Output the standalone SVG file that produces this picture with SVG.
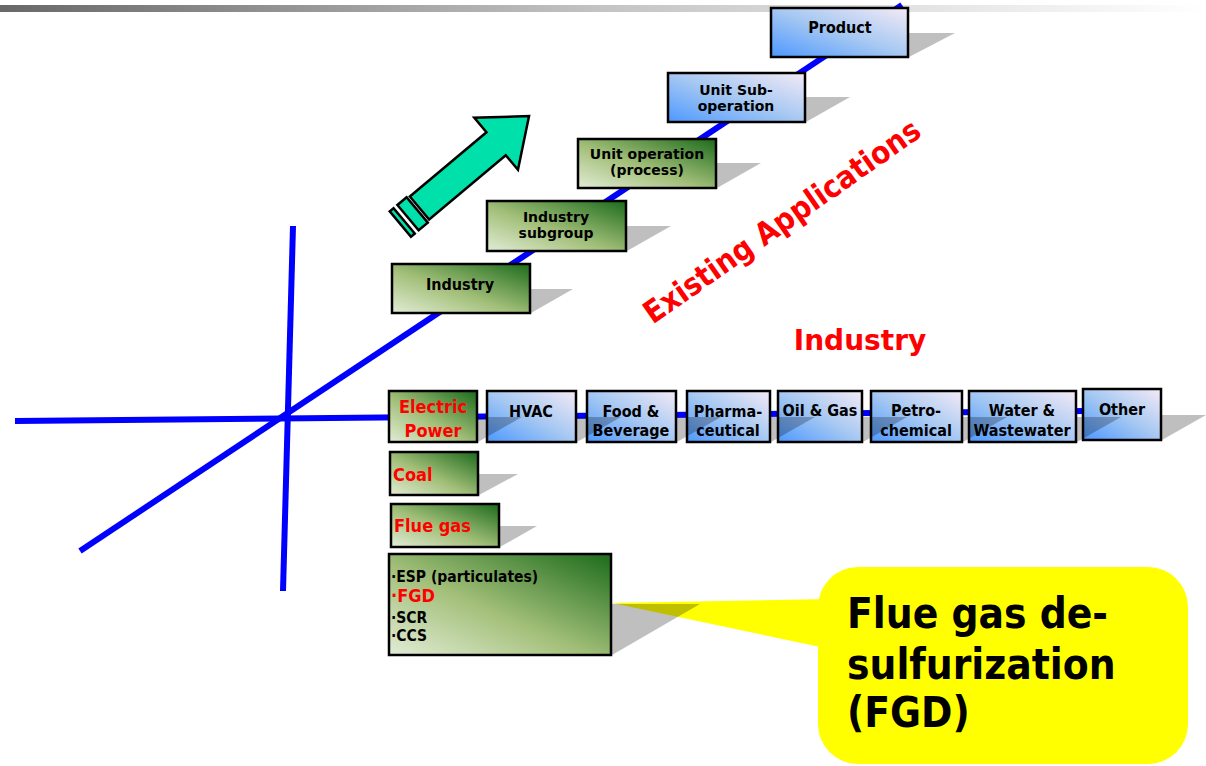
<svg xmlns="http://www.w3.org/2000/svg" width="1206" height="766" viewBox="0 0 1206 766">
<defs>
<linearGradient id="topbar" x1="0" y1="0" x2="1" y2="0">
<stop offset="0" stop-color="#686868"/>
<stop offset="0.5" stop-color="#c4c4c4"/>
<stop offset="1" stop-color="#ffffff"/>
</linearGradient>
<linearGradient id="green" x1="0" y1="1" x2="1" y2="0">
<stop offset="0" stop-color="#e2ecd6"/>
<stop offset="0.45" stop-color="#a2bf78"/>
<stop offset="1" stop-color="#1c6b1c"/>
</linearGradient>
<linearGradient id="blue" x1="0" y1="1" x2="1" y2="0">
<stop offset="0" stop-color="#4d98ff"/>
<stop offset="0.5" stop-color="#a6c8f2"/>
<stop offset="1" stop-color="#f4eaf6"/>
</linearGradient>
<style>
.ax{stroke:#0000ff;stroke-width:6;fill:none;stroke-linecap:butt}
.g{fill:url(#green);stroke:#000;stroke-width:2.5}
.b{fill:url(#blue);stroke:#000;stroke-width:2.5}
.sh{fill:#000;fill-opacity:0.25}
text{font-family:"DejaVu Sans Condensed","DejaVu Sans",sans-serif;font-stretch:condensed;font-weight:bold}
.t{font-size:16px;fill:#000;text-anchor:middle}
.d{font-family:"DejaVu Sans",sans-serif;font-stretch:normal;font-size:14px;fill:#000;text-anchor:middle}
.r{font-size:18px;fill:#ff0000}
.l{font-size:15.5px;fill:#000}
</style>
</defs>
<rect x="0" y="5" width="1206" height="7" fill="url(#topbar)"/>
<g id="connectors">
<line class="ax" x1="15" y1="421" x2="1085" y2="411"/>
<line class="ax" x1="293" y1="226" x2="283" y2="591"/>
<line class="ax" x1="80" y1="551" x2="902" y2="5"/>
</g>
<g id="arrow" transform="translate(419.5,208) rotate(-40)">
<polygon points="0,-15 100,-15 100,-34 143,0 100,34 100,15 0,15" fill="#00e0aa" stroke="#000" stroke-width="2.5" stroke-linejoin="miter"/>
<rect x="-15" y="-16.5" width="12" height="33" fill="#00e0aa" stroke="#000" stroke-width="2.5"/>
<rect x="-25" y="-16.5" width="5" height="33" fill="#00e0aa" stroke="#000" stroke-width="2.5"/>
</g>
<g id="node-product"><rect class="b" x="771" y="8" width="137" height="49"/><text class="t" x="840" y="33">Product</text></g>
<g id="node-unit-sub"><rect class="b" x="668" y="73" width="137" height="49"/><text class="d" x="736" y="95">Unit Sub-</text><text class="d" x="736" y="111">operation</text></g>
<g id="node-unit-op"><rect class="g" x="578" y="139" width="138" height="49"/><text class="d" x="647" y="159">Unit operation</text><text class="d" x="647" y="175">(process)</text></g>
<g id="node-subgroup"><rect class="g" x="487" y="201" width="139" height="50"/><text class="d" x="556" y="222">Industry</text><text class="d" x="556" y="238">subgroup</text></g>
<g id="node-industry"><rect class="g" x="392" y="264" width="138" height="49"/><text class="t" x="460" y="290">Industry</text></g>
<g id="node-electric"><rect class="g" x="389" y="391" width="88" height="51"/><text class="r" x="433" y="413" text-anchor="middle">Electric</text><text class="r" x="433" y="437" text-anchor="middle">Power</text></g>
<g id="node-hvac"><rect class="b" x="487" y="391" width="89" height="51"/><text class="t" x="531" y="417">HVAC</text></g>
<g id="node-food"><rect class="b" x="587" y="391" width="89" height="51"/><text class="t" x="631" y="417">Food &amp;</text><text class="t" x="631" y="436">Beverage</text></g>
<g id="node-pharma"><rect class="b" x="687" y="391" width="83" height="51"/><text class="t" x="728" y="417">Pharma-</text><text class="t" x="728" y="436">ceutical</text></g>
<g id="node-oil"><rect class="b" x="778" y="391" width="84" height="51"/><text class="t" x="820" y="416">Oil &amp; Gas</text></g>
<g id="node-petro"><rect class="b" x="871" y="391" width="91" height="51"/><text class="t" x="916" y="416">Petro-</text><text class="t" x="916" y="436">chemical</text></g>
<g id="node-water"><rect class="b" x="969" y="391" width="107" height="51"/><text class="t" x="1022" y="416">Water &amp;</text><text class="t" x="1022" y="436">Wastewater</text></g>
<g id="node-other"><rect class="b" x="1083" y="389" width="78" height="51"/><text class="t" x="1122" y="415">Other</text></g>
<g id="node-coal"><rect class="g" x="390" y="452" width="88" height="43"/><text class="r" x="393" y="481">Coal</text></g>
<g id="node-fluegas"><rect class="g" x="391" y="504" width="108" height="43"/><text class="r" x="394" y="532">Flue gas</text></g>
<g id="callout">
<polygon points="612,603 830,599 830,649" fill="#ffff00"/>
<rect x="818" y="567" width="370" height="197" rx="40" ry="40" fill="#ffff00"/>
<text x="847" y="628" font-size="42" fill="#000">Flue gas de-</text>
<text x="847" y="679" font-size="42" fill="#000">sulfurization</text>
<text x="847" y="727" font-size="42" fill="#000">(FGD)</text>
</g>
<g id="node-esp"><rect class="g" x="389" y="554" width="222" height="101"/>
<text class="l" x="391" y="582">·ESP (particulates)</text>
<text class="r" x="391" y="602">·FGD</text>
<text class="l" x="391" y="623">·SCR</text>
<text class="l" x="391" y="641">·CCS</text>
</g>
<g id="shadows">
<polygon class="sh" points="908,33 955,33 909,57"/>
<polygon class="sh" points="805,97 850,97 806,122"/>
<polygon class="sh" points="716,163 761,163 717,188"/>
<polygon class="sh" points="626,226 671,226 627,251"/>
<polygon class="sh" points="530,289 573,289 531,313"/>
<polygon class="sh" points="477,417 522,417 478,442"/>
<polygon class="sh" points="576,417 621,417 577,442"/>
<polygon class="sh" points="676,417 721,417 677,442"/>
<polygon class="sh" points="770,417 815,417 771,442"/>
<polygon class="sh" points="862,417 907,417 863,442"/>
<polygon class="sh" points="962,417 1007,417 963,442"/>
<polygon class="sh" points="1076,417 1121,417 1077,442"/>
<polygon class="sh" points="1161,415 1206,415 1162,440"/>
<polygon class="sh" points="478,474 518,474 479,495"/>
<polygon class="sh" points="499,526 537,526 500,547"/>
<polygon class="sh" points="611,604 700,604 612,655"/>
</g>
<text x="788" y="230" font-size="31" fill="#ff0000" text-anchor="middle" transform="rotate(-35 788 230)">Existing Applications</text>
<text x="860" y="350" font-size="28" fill="#ff0000" text-anchor="middle" style="font-family:'DejaVu Sans',sans-serif;font-stretch:normal">Industry</text>
</svg>
